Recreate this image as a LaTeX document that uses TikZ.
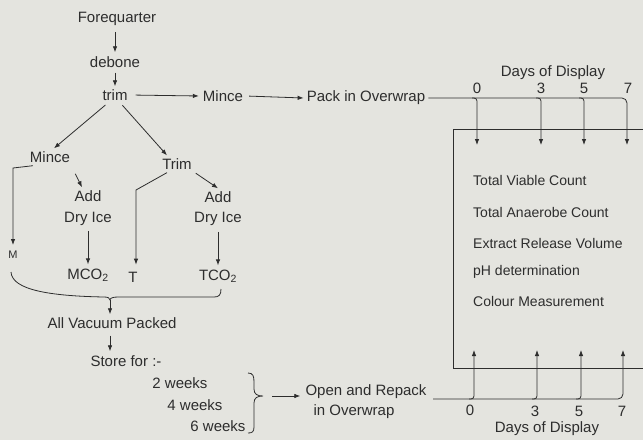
\documentclass[tikz,border=0pt]{standalone}
\usepackage{fontspec}
\setmainfont{Liberation Sans}
\usetikzlibrary{arrows.meta,calc}
\definecolor{ink}{RGB}{45,45,45}
\definecolor{paper}{RGB}{228,228,223}
\begin{document}
\begin{tikzpicture}[x=1pt,y=-1pt,
  font=\fontsize{15}{17}\selectfont,
  every node/.style={text=ink, inner sep=3pt},
  boxtxt/.style={anchor=west, font=\fontsize{14}{16}\selectfont},
  arr/.style={draw=ink, line width=0.8pt, -{Latex[length=6pt,width=4.5pt]}},
  ln/.style={draw=ink, line width=0.8pt}]
\fill[paper] (0,0) rectangle (643,440);
\useasboundingbox (0,0) rectangle (643,440);

% upper flow
\node (fq) at (117,19) {Forequarter};
\node (deb) at (115,62) {debone};
\node (trim) at (115,95) {trim};
\node (mince1) at (223,96) {Mince};
\node (pack) at (366,98) {Pack in Overwrap};
\node (dod1) at (553,73) {Days of Display};
\node (d0a) at (477,88) {0};
\node (d3a) at (541,88) {3};
\node (d5a) at (584,88) {5};
\node (d7a) at (628,88) {7};

\draw[arr, shorten <=3pt, shorten >=1pt] (fq.south -| deb) -- (deb);
\draw[arr, shorten <=2pt] (deb) -- (trim.north);
\draw[arr, shorten <=5pt, shorten >=1pt] (trim.east) -- (mince1.west);
\draw[arr, shorten <=3pt] (mince1.east) -- (pack.west);

% lower-left tree
\node (mince2) at (50,157) {Mince};
\node (trim2) at (177,164) {Trim};
\node (add1) at (88,196) {Add};
\node (dry1) at (88,219) {Dry Ice};
\node (mco) at (88,275) {MCO\textsubscript{2}};
\node[font=\fontsize{11}{13}\selectfont] (m) at (13,255) {M};
\node (t) at (133,277) {T};
\node (add2) at (218,197) {Add};
\node (dry2) at (218,219) {Dry Ice};
\node (tco) at (218,276) {TCO\textsubscript{2}};

\draw[arr, shorten <=2pt] ([xshift=-8pt]trim.south) -- ([xshift=4pt]mince2.north);
\draw[arr, shorten <=2pt] ([xshift=6pt]trim.south) -- ([xshift=-10pt]trim2.north);

\coordinate (mb) at (13,168);
\draw[arr, shorten >=3pt] ([xshift=6pt]mince2.south west) -- (mb) -- (mb |- m.north);
\draw[arr, shorten <=9pt] ([xshift=-2pt]mince2.south east) -- ([xshift=-6pt]add1.north);
\draw[arr, shorten <=2pt, shorten >=1pt] (dry1) -- (mco);

\coordinate (tb) at (136,190);
\draw[arr, shorten >=4pt] ([xshift=-10pt]trim2.south) -- (tb) -- (tb |- t.north);
\draw[arr, shorten <=1pt] (trim2.south east) -- (add2.north);
\draw[arr, shorten <=3pt, shorten >=1pt] (dry2) -- (tco);

% brace collecting all samples
\coordinate (brtip) at (110,300);
\draw[ln] (11,272) .. controls (12,290) and (50,296) .. (104,297)
  .. controls (108,297) and (110,298) .. (brtip)
  .. controls (110,298) and (113,297) .. (118,297) -- (214,297)
  .. controls (219,297) and (221,295) .. (221,289);

\node (avp) at (112,323) {All Vacuum Packed};
\node (store) at (126,361) {Store for :-};
\draw[arr] (brtip) -- (brtip |- avp.north);
\draw[arr, shorten <=4pt, shorten >=1pt] (avp.south -| brtip) -- (brtip |- store.north);

\node (w2) at (180,383) {2 weeks};
\node (w4) at (195,405) {4 weeks};
\node (w6) at (218,426) {6 weeks};

\coordinate (wtip) at (263,396);
\draw[ln] (248,373) .. controls (253,373) and (254,376) .. (254,382) -- (254,389)
  .. controls (254,394) and (257,396) .. (wtip)
  .. controls (257,396) and (254,398) .. (254,403) -- (254,427)
  .. controls (254,432) and (252,433) .. (248,433);

\node (open) at (366,392) {Open and Repack};
\node (inov) at (354,412) {in Overwrap};
\draw[arr, shorten <=9pt, shorten >=2pt] (wtip) -- (wtip -| open.west);

% measurement box
\draw[ln] (660,129) -- (453,129) -- (453,368) -- (660,368);
\node[boxtxt] (tvc) at (470,180) {Total Viable Count};
\node[boxtxt] (tac) at (470,212) {Total Anaerobe Count};
\node[boxtxt] (erv) at (470,243) {Extract Release Volume};
\node[boxtxt] (ph) at (470,272) {pH determination};
\node[boxtxt] (col) at (470,301) {Colour Measurement};

% top distribution of display days
\coordinate (ta0) at (477,145);
\coordinate (ta3) at (541,145);
\coordinate (ta5) at (584,145);
\coordinate (ta7) at (627,145);
\draw[arr, rounded corners=5pt] (pack.east) -- (pack.east -| ta7) -- (ta7);
\foreach \c in {ta0,ta3,ta5}
  \draw[arr, rounded corners=3pt] ($(pack.east -| \c)+(-5,0)$) -- (pack.east -| \c) -- (\c);

% bottom distribution of display days
\coordinate (bstart) at (433,399);
\coordinate (ba0) at (474,350);
\coordinate (ba3) at (537,350);
\coordinate (ba5) at (581,350);
\coordinate (ba7) at (623,350);
\draw[arr, rounded corners=5pt] (bstart) -- (bstart -| ba7) -- (ba7);
\foreach \c in {ba0,ba3,ba5}
  \draw[arr, rounded corners=3pt] ($(bstart -| \c)+(-5,0)$) -- (bstart -| \c) -- (\c);

\node[inner sep=1pt] (d0b) at (470,410) {0};
\node[inner sep=1pt] (d3b) at (535,411) {3};
\node[inner sep=1pt] (d5b) at (579,411) {5};
\node[inner sep=1pt] (d7b) at (622,411) {7};
\node[inner sep=1pt] (dod2) at (547,429) {Days of Display};
\end{tikzpicture}
\end{document}
